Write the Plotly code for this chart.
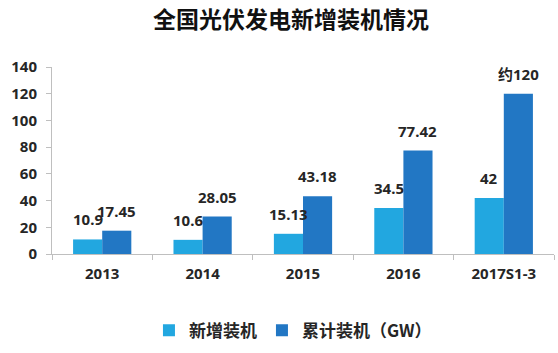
import plotly.graph_objects as go

categories = ["2013", "2014", "2015", "2016", "2017S1-3"]
new_install = [10.9, 10.6, 15.13, 34.5, 42]
cumulative = [17.45, 28.05, 43.18, 77.42, 120]
new_labels = ["10.9", "10.6", "15.13", "34.5", "42"]
cum_labels = ["17.45", "28.05", "43.18", "77.42", "约120"]
y_ticks = [0, 20, 40, 60, 80, 100, 120, 140]

LIGHT = "#22a7e0"
DARK = "#2277c4"
TXT = "#262626"
FONT = "Noto Sans, Noto Sans CJK SC, sans-serif"

fig = go.Figure()
fig.add_trace(go.Bar(name="新增装机", x=categories, y=new_install, marker_color=LIGHT,
                     marker_line_width=0))
fig.add_trace(go.Bar(name="累计装机（GW）", x=categories, y=cumulative, marker_color=DARK,
                     marker_line_width=0))

annotations = []
for i, (v, t) in enumerate(zip(new_install, new_labels)):
    annotations.append(dict(x=i, y=v, xref="x", yref="y", text=t, showarrow=False,
                            xshift=-14.5, yanchor="bottom", yshift=8,
                            font=dict(family=FONT, size=15, color=TXT, weight="bold")))
for i, (v, t) in enumerate(zip(cumulative, cum_labels)):
    annotations.append(dict(x=i, y=v, xref="x", yref="y", text=t, showarrow=False,
                            xshift=14.5, yanchor="bottom", yshift=8,
                            font=dict(family=FONT, size=15, color=TXT, weight="bold")))
annotations.append(dict(x=0.5, y=1, xref="paper", yref="paper", xanchor="center", yanchor="bottom",
                        text="全国光伏发电新增装机情况", showarrow=False, yshift=30,
                        xshift=-12,
                        font=dict(family="Noto Sans CJK SC", size=23, color="#111111",
                                  weight="bold")))

fig.update_layout(
    width=558, height=353,
    margin=dict(l=52, r=4, t=67, b=97),
    paper_bgcolor="white", plot_bgcolor="white",
    barmode="group", bargap=0.42, bargroupgap=0,
    showlegend=True,
    legend=dict(orientation="h", x=0.48, xanchor="center", y=-0.41, yanchor="middle",
                font=dict(family="Noto Sans CJK SC", size=17, color=TXT, weight="bold"),
                itemwidth=30, tracegroupgap=0),
    annotations=annotations,
    xaxis=dict(showline=True, linecolor="#bfbfbf", linewidth=1, ticks="outside",
               tickson="boundaries", ticklen=5, tickcolor="#bfbfbf", showgrid=False,
               tickfont=dict(family=FONT, size=15, color=TXT, weight="bold"),
               ticklabelstandoff=6),
    yaxis=dict(range=[0, 140], tickvals=y_ticks, showline=True, linecolor="#bfbfbf",
               linewidth=1, ticks="outside", ticklen=5, tickcolor="#bfbfbf",
               showgrid=False, zeroline=False,
               tickfont=dict(family=FONT, size=15, color=TXT, weight="bold"),
               ticklabelstandoff=6),
)

fig.write_html("out.html")
